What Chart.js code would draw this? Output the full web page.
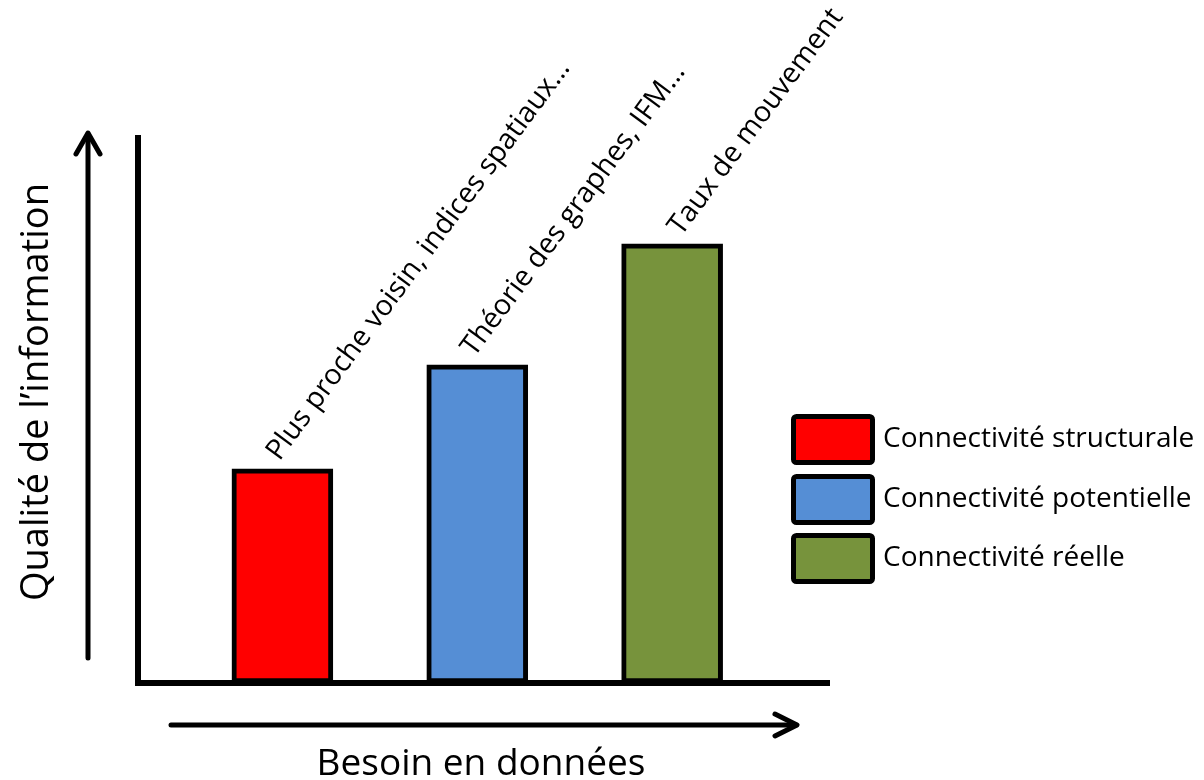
<!DOCTYPE html>
<html>
<head>
<meta charset="utf-8">
<script src="https://cdn.jsdelivr.net/npm/chart.js@4.4.1/dist/chart.umd.min.js"></script>
<style>
  html, body { margin: 0; padding: 0; background: #ffffff; }
  #wrap { width: 1204px; height: 780px; }
</style>
</head>
<body>
<div id="wrap"><canvas id="c" width="1204" height="780"></canvas></div>
<script>
// ---- data ----
const categories = ["Plus proche voisin, indices spatiaux…", "Théorie des graphes, IFM…", "Taux de mouvement"];
const positions = [1, 2, 3];
const values = [39.3, 58.4, 80.6];
const seriesNames = ["Connectivité structurale", "Connectivité potentielle", "Connectivité réelle"];
const colors = ["#FF0000", "#558ED5", "#77933C"];
const yTitle = "Qualité de l’information";
const xTitle = "Besoin en données";

// label placement nudges (style only)
const labelNudgeX = [-3, -3, 9];

const FONT = "'Open Sans', 'Noto Sans', sans-serif";

const decorPlugin = {
  id: 'decor',
  afterDatasetsDraw(chart) {
    const ctx = chart.ctx;
    const meta = chart.getDatasetMeta(0);
    ctx.save();
    ctx.fillStyle = '#000';
    ctx.font = "28.5px " + FONT;
    ctx.textAlign = 'left';
    ctx.textBaseline = 'alphabetic';
    meta.data.forEach((bar, i) => {
      ctx.save();
      ctx.translate(bar.x + labelNudgeX[i], bar.y - 7);
      ctx.rotate(-53.5 * Math.PI / 180);
      ctx.fillText(categories[i], 0, 0);
      ctx.restore();
    });
    ctx.restore();
  },
  afterDraw(chart) {
    const ctx = chart.ctx;
    ctx.save();
    // arrows
    ctx.strokeStyle = '#000';
    ctx.lineWidth = 5;
    ctx.lineCap = 'round';
    ctx.lineJoin = 'round';
    // vertical arrow
    ctx.beginPath();
    ctx.moveTo(88, 658);
    ctx.lineTo(88, 134);
    ctx.stroke();
    ctx.beginPath();
    ctx.moveTo(76, 154);
    ctx.lineTo(88, 133);
    ctx.lineTo(100, 154);
    ctx.stroke();
    // horizontal arrow
    ctx.beginPath();
    ctx.moveTo(171, 725);
    ctx.lineTo(796, 725);
    ctx.stroke();
    ctx.beginPath();
    ctx.moveTo(775, 714);
    ctx.lineTo(797, 725);
    ctx.lineTo(775, 736);
    ctx.stroke();

    // axis titles
    ctx.fillStyle = '#000';
    ctx.font = "37px " + FONT;
    ctx.textAlign = 'center';
    ctx.textBaseline = 'alphabetic';
    ctx.fillText(xTitle, 481, 775);
    ctx.font = "38px " + FONT;
    ctx.save();
    ctx.translate(48, 392);
    ctx.rotate(-Math.PI / 2);
    ctx.fillText(yTitle, 0, 0);
    ctx.restore();

    // legend
    const bx = 791, bw = 84, bh = 51;
    const tops = [414, 474, 533];
    ctx.font = "28px " + FONT;
    ctx.textAlign = 'left';
    seriesNames.forEach((name, i) => {
      const y = tops[i];
      ctx.beginPath();
      ctx.roundRect(bx + 2.5, y + 2.5, bw - 5, bh - 5, 3);
      ctx.fillStyle = colors[i];
      ctx.fill();
      ctx.lineWidth = 5;
      ctx.strokeStyle = '#000';
      ctx.stroke();
      ctx.fillStyle = '#000';
      ctx.fillText(name, 883, y + bh / 2 + 7);
    });
    ctx.restore();
  }
};

new Chart(document.getElementById('c'), {
  type: 'bar',
  data: {
    datasets: [{
      data: positions.map((p, i) => ({ x: p, y: values[i] })),
      backgroundColor: colors,
      borderColor: '#000000',
      borderWidth: 5,
      borderSkipped: false,
      barThickness: 101
    }]
  },
  options: {
    responsive: false,
    animation: false,
    events: [],
    layout: { padding: { left: 138, right: 375, top: 138, bottom: 97 } },
    plugins: {
      legend: { display: false },
      tooltip: { enabled: false },
      title: { display: false }
    },
    scales: {
      x: {
        type: 'linear',
        offset: false,
        min: 0.259,
        max: 3.805,
        z: 1,
        ticks: { display: false },
        grid: { display: false, drawTicks: false, offset: false },
        border: { display: true, color: '#000', width: 6 },
        afterFit(s) { s.height = 0; }
      },
      y: {
        min: 0,
        max: 100,
        z: 1,
        ticks: { display: false },
        grid: { display: false, drawTicks: false },
        border: { display: true, color: '#000', width: 6 },
        afterFit(s) { s.width = 0; }
      }
    }
  },
  plugins: [decorPlugin]
});
</script>
</body>
</html>
